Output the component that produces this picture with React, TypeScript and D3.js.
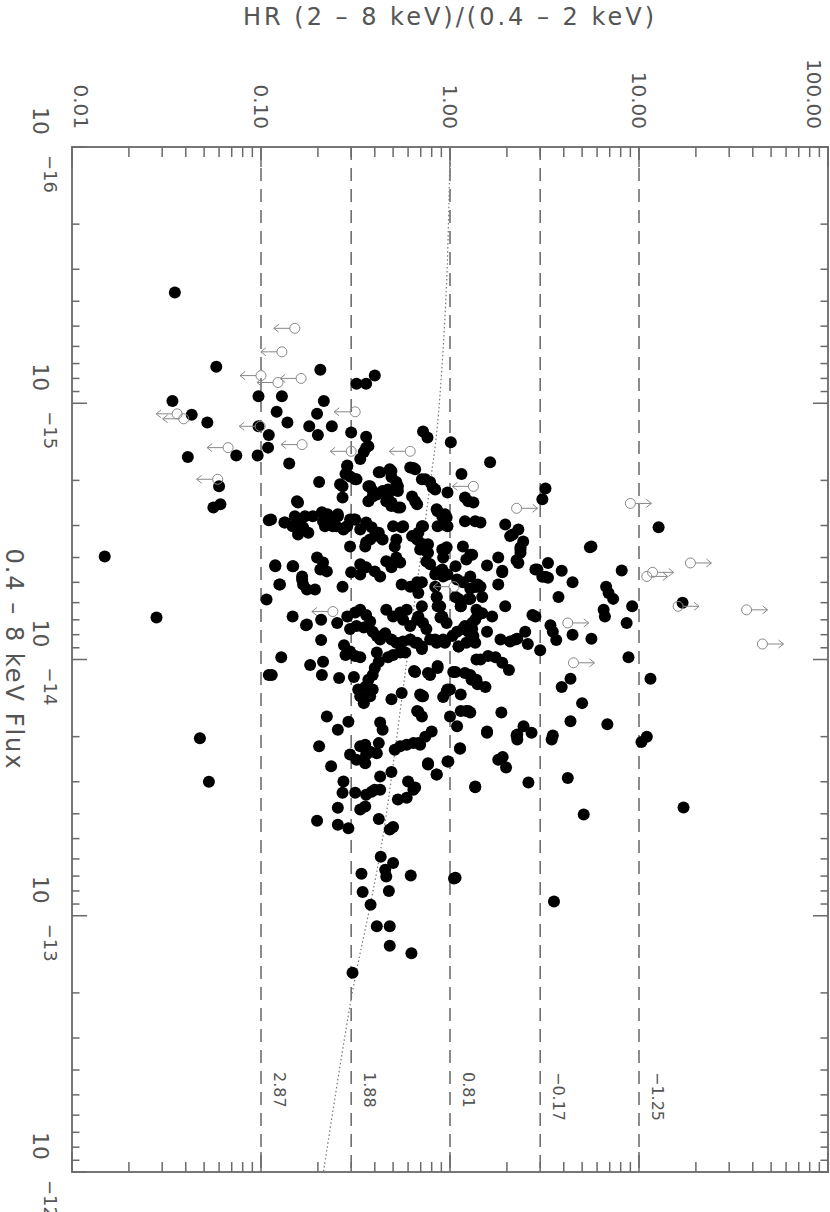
import React, { useEffect, useRef } from 'react';
import * as d3 from 'd3';

const width = 830;
const height = 1212;
const plot = { left: 72, right: 828, top: 147, bottom: 1172 };

// axis labels
const hrTicks = [0.01, 0.1, 1, 10, 100];
const hrTickLabels = ['0.01', '0.10', '1.00', '10.00', '100.00'];
const fluxTickExponents = [-16, -15, -14, -13, -12];

// photon index lines (HR value, label)
const gammaHR = [0.1, 0.3, 1, 3, 10];
const gammaLabels = ['2.87', '1.88', '0.81', '\u22120.17', '\u22121.25'];

// model track, flux in units of 1e-15
const modelFlux = [0.1, 0.355, 1.23, 2.04, 11.2, 47.9, 87, 200, 1000];
const modelHR = [1.0, 0.957, 0.857, 0.787, 0.58, 0.444, 0.383, 0.304, 0.214];

// detected sources: [HR, flux / 1e-15]
const detections: [number, number][] = [
    [0.035, 0.37], [0.058, 0.72], [0.206, 0.74], [0.40, 0.78], [0.36, 0.84], [0.32, 0.84], [0.034, 0.98], [0.097, 0.94],
    [0.129, 0.94], [0.215, 0.98], [0.043, 1.11], [0.052, 1.19], [0.121, 1.08], [0.138, 1.19], [0.198, 1.10], [0.180, 1.23],
    [0.237, 1.23], [0.097, 1.23], [0.110, 1.33], [0.109, 1.49], [0.096, 1.60], [0.20, 1.33], [0.30, 1.30], [0.36, 1.35],
    [0.36, 1.49], [0.335, 1.65], [0.041, 1.62], [0.074, 1.60], [0.141, 1.72], [0.286, 1.75], [0.28, 1.89], [0.42, 1.86],
    [0.49, 1.84], [0.616, 1.78], [0.203, 2.03], [0.060, 2.11], [0.061, 2.48], [0.056, 2.55], [0.262, 2.07], [0.315, 1.98],
    [0.37, 2.11], [0.47, 2.17], [0.53, 2.11], [0.27, 2.33], [0.39, 2.31], [0.49, 2.44], [0.545, 2.55], [0.157, 2.44],
    [0.110, 2.86], [0.134, 2.92], [0.151, 2.76], [0.171, 2.76], [0.157, 3.11], [0.178, 3.20], [0.21, 2.66], [0.218, 3.02],
    [0.255, 2.71], [0.273, 3.11], [0.31, 2.84], [0.36, 2.92], [0.42, 3.20], [0.50, 3.02], [0.565, 3.02], [0.296, 3.62],
    [0.36, 3.49], [0.44, 3.40], [0.63, 3.30],
    [0.72, 1.29], [0.76, 1.36], [1.01, 1.42], [1.63, 1.70], [1.15, 1.89], [0.654, 1.81], [0.71, 1.98], [0.785, 2.03],
    [0.81, 2.13], [0.97, 2.23], [1.20, 2.33], [1.33, 2.44], [3.20, 2.15], [3.08, 2.37], [0.86, 2.64], [0.94, 2.71],
    [0.97, 3.02], [0.86, 3.02], [1.20, 2.89], [1.45, 2.92], [1.96, 2.97], [2.30, 3.11], [2.08, 3.30], [2.44, 3.46],
    [0.71, 3.02], [12.7, 3.05], [5.6, 3.62], [1.17, 3.62], [0.96, 3.65], [0.765, 3.55],
    [8.1, 4.49], [6.7, 5.2], [6.9, 5.5], [7.3, 5.8], [6.5, 6.4], [6.6, 6.8], [9.2, 6.2], [8.6, 7.2], [8.8, 9.8],
    [11.5, 11.9], [17.0, 6.0], [3.75, 5.7], [4.45, 5.0], [3.3, 4.2], [3.08, 4.75], [3.3, 4.8], [3.9, 4.5], [2.83, 4.45],
    [3.4, 7.35], [3.5, 7.8], [3.65, 8.4], [4.45, 8.0], [5.6, 8.3], [3.0, 9.2], [4.34, 11.9], [3.9, 12.8], [5.0, 14.8],
    [4.34, 17.4], [6.8, 17.9], [3.5, 19.8], [10.3, 21.0], [11.0, 20.0], [4.2, 29.0], [5.1, 40.3], [17.2, 37.8],
    [1.05, 71.6], [2.6, 30.2], [1.36, 31.3], [0.654, 31.6], [0.765, 25.7], [0.85, 28.1], [0.97, 25.0], [1.13, 22.2],
    [1.80, 24.6], [1.90, 24.0], [1.98, 26.4], [2.25, 19.8], [2.45, 18.2], [2.70, 19.3], [1.57, 19.1], [1.87, 16.1],
    [0.68, 21.2], [0.80, 19.1], [0.74, 20.0], [1.09, 18.2], [1.0, 16.7], [1.14, 15.9], [1.22, 15.9], [0.96, 13.3],
    [0.97, 13.1], [1.14, 13.7], [0.71, 13.9], [0.68, 16.0], [0.654, 11.2], [0.765, 11.3], [0.86, 10.6], [1.07, 11.2],
    [1.20, 11.3], [1.30, 12.0], [1.40, 12.5], [1.54, 12.8], [1.45, 10.0], [1.59, 9.7], [1.74, 9.8], [1.89, 10.3],
    [2.05, 11.0], [0.654, 8.6], [0.71, 8.9], [0.835, 8.35], [0.94, 8.6], [1.03, 8.1], [1.11, 8.9], [1.20, 7.4],
    [1.31, 7.6], [1.25, 7.8], [1.36, 8.6], [1.57, 7.8], [1.85, 8.35], [2.08, 8.5], [2.22, 8.35], [2.50, 7.8],
    [2.58, 8.7], [2.73, 6.7], [2.83, 6.8], [1.96, 6.2], [1.67, 6.8], [1.40, 6.7], [1.36, 7.0], [1.48, 6.6],
    [1.11, 5.8], [1.14, 6.2], [1.25, 5.8], [1.28, 5.3], [1.36, 5.2], [1.45, 5.2], [1.48, 5.7], [1.80, 5.1],
    [1.89, 4.5], [1.57, 4.3], [1.80, 4.0], [2.25, 4.1], [1.28, 3.9], [2.36, 3.72], [0.94, 3.72], [0.695, 3.72],
    [0.765, 3.83], [0.75, 4.15], [0.835, 4.66], [0.91, 4.45], [0.97, 4.66], [0.835, 5.2], [0.85, 5.7], [0.86, 6.2],
    [0.89, 6.85], [0.71, 5.0], [0.68, 5.5], [0.71, 6.2], [0.68, 6.8],
    [0.155, 2.41], [0.113, 2.84], [0.161, 2.89], [0.167, 3.05], [0.157, 3.25], [0.225, 2.71], [0.213, 2.89], [0.24, 3.02],
    [0.255, 2.76], [0.25, 3.02], [0.28, 3.05], [0.296, 2.84], [0.315, 2.84], [0.335, 3.11], [0.385, 3.05], [0.40, 3.30],
    [0.286, 1.76], [0.27, 2.11], [0.296, 1.93], [0.32, 1.98], [0.37, 1.47], [0.35, 1.55], [0.427, 1.86], [0.48, 1.81],
    [0.49, 1.94], [0.52, 2.03], [0.53, 2.2], [0.378, 2.11], [0.39, 2.2], [0.41, 2.27], [0.44, 2.2], [0.47, 2.27],
    [0.46, 2.41], [0.49, 2.52], [0.53, 2.55], [0.37, 2.41], [0.63, 2.31], [0.654, 2.41], [0.67, 2.48], [0.64, 1.79],
    [0.74, 1.98], [0.835, 2.17], [1.25, 2.41], [0.85, 2.59], [0.91, 2.76], [0.92, 2.97], [0.96, 2.79], [1.36, 2.89],
    [0.72, 3.02], [0.68, 3.2], [0.67, 3.4], [0.72, 3.55], [0.75, 3.78], [0.555, 3.05], [0.52, 3.4], [0.51, 3.62],
    [0.378, 3.4], [0.356, 3.62], [0.91, 3.72], [0.92, 4.0], [1.22, 4.07], [0.785, 4.25], [1.07, 4.33], [0.52, 4.0],
    [0.545, 4.18], [0.49, 4.37], [0.46, 4.14], [0.335, 4.25], [0.36, 4.37], [0.40, 4.53], [0.427, 4.74], [0.30, 4.57],
    [0.335, 4.66], [0.198, 4.0], [0.213, 4.18], [0.206, 4.45], [0.223, 4.53], [0.119, 4.33], [0.147, 4.33], [0.165, 4.74],
    [0.126, 5.1], [0.167, 5.1], [0.175, 5.33], [0.27, 5.2], [0.85, 4.57], [0.92, 4.74], [1.09, 4.87], [1.17, 5.0],
    [1.28, 4.74], [1.38, 5.2], [0.555, 5.1], [0.616, 5.2], [0.67, 5.0],
    [0.147, 6.8], [0.175, 7.3], [0.208, 7.0], [0.208, 8.4], [0.128, 9.8], [0.182, 10.5], [0.213, 10.2], [0.21, 11.5],
    [0.114, 11.5], [0.259, 11.8], [0.31, 11.7], [0.253, 7.2], [0.286, 6.8], [0.315, 6.55], [0.335, 6.4], [0.36, 6.7],
    [0.378, 7.1], [0.296, 7.6], [0.32, 7.4], [0.35, 7.5], [0.39, 7.8], [0.41, 8.1], [0.427, 8.35], [0.46, 6.4],
    [0.50, 6.8], [0.545, 6.55], [0.59, 6.4], [0.565, 7.0], [0.616, 7.4], [0.67, 7.0], [0.72, 7.2], [0.75, 7.6],
    [0.454, 7.9], [0.49, 8.35], [0.52, 8.6], [0.565, 8.5], [0.616, 8.35], [0.67, 8.6], [0.71, 9.1], [0.785, 8.35],
    [0.85, 8.6], [0.92, 8.35], [1.09, 7.8], [1.17, 7.6], [1.28, 7.4], [0.85, 5.7], [0.887, 6.2], [0.91, 6.8],
    [0.96, 7.2], [1.07, 5.7], [1.14, 6.2], [1.28, 5.8], [1.38, 6.4], [1.11, 8.9], [1.22, 8.6], [1.33, 8.1],
    [1.38, 10.0], [0.275, 8.8], [0.28, 9.6], [0.296, 9.3], [0.315, 9.7], [0.335, 9.8], [0.41, 9.4], [0.42, 10.2],
    [0.40, 10.8], [0.39, 11.5], [0.37, 12.0], [0.356, 12.8], [0.47, 9.8], [0.50, 9.6], [0.545, 9.4], [0.58, 9.4],
    [0.327, 13.1], [0.335, 13.9], [0.35, 14.8], [0.378, 13.9], [0.39, 13.1], [0.49, 14.3], [0.555, 13.5], [0.645, 11.1],
    [0.785, 11.5], [0.86, 10.8], [1.04, 11.2], [1.28, 11.5], [1.38, 12.0], [0.72, 13.9], [0.695, 13.7], [0.92, 14.0],
    [1.0, 13.1], [0.67, 15.9], [0.71, 16.7], [1.25, 15.9], [0.427, 17.6], [0.44, 18.8], [0.223, 16.7], [0.255, 18.8],
    [0.29, 17.5],
    [0.203, 21.8], [0.296, 23.5], [0.335, 21.8], [0.356, 21.5], [0.36, 23.5], [0.378, 22.9], [0.41, 23.2], [0.42, 21.2],
    [0.32, 24.6], [0.356, 25.4], [0.51, 22.5], [0.545, 21.8], [0.59, 21.5], [0.64, 21.2], [0.695, 21.5], [0.235, 26.1],
    [0.427, 28.6], [0.49, 27.5], [0.273, 29.9], [0.27, 33.1], [0.315, 33.1], [0.36, 33.7], [0.385, 32.8], [0.40, 32.2],
    [0.427, 32.2], [0.60, 29.9], [0.64, 32.2], [0.59, 34.6], [0.53, 35.2], [0.765, 25.4], [0.85, 28.1], [0.98, 25.0],
    [1.13, 22.3], [1.36, 31.5], [0.255, 37.9], [0.335, 38.5], [0.356, 37.5], [0.198, 42.6], [0.255, 44.1], [0.29, 45.6],
    [0.42, 41.9], [0.48, 46.1], [0.50, 45.0], [0.43, 58.9], [0.50, 62.2], [0.454, 66.1], [0.46, 70.3], [0.34, 68.5],
    [0.62, 69.6], [1.07, 71.0], [0.345, 80.7], [0.475, 80.0],
    [0.38, 90.6], [0.41, 110], [0.48, 110], [0.48, 131], [0.625, 140], [0.305, 167], [3.55, 88],
    [2.15, 3.25], [2.36, 3.65], [2.36, 3.83], [2.30, 4.2], [1.89, 4.57], [1.31, 3.9], [2.9, 4.45], [3.2, 4.75],
    [5.5, 3.65], [1.40, 5.1], [1.31, 7.2], [2.27, 8.3], [1.28, 16.1], [1.57, 19.3], [2.27, 19.6], [3.45, 20.5], [2.27, 20.5],
    [0.0149, 3.96], [0.028, 6.85], [0.0475, 20.3], [0.053, 30.0], [0.133, 2.92], [0.147, 3.02], [0.188, 2.76], [0.232, 2.84],
    [0.286, 3.02], [0.119, 4.29], [0.148, 4.33], [0.125, 5.1], [0.165, 4.87], [0.193, 5.33], [0.107, 5.83], [0.173, 7.35],
    [0.110, 11.5],
];

// HR upper limits (arrow to the left): [HR, flux / 1e-15]
const upperLimits: [number, number][] = [
    [0.151, 0.51], [0.129, 0.63], [0.10, 0.78], [0.163, 0.80], [0.123, 0.83], [0.036, 1.10], [0.039, 1.15], [0.099, 1.23],
    [0.315, 1.08], [0.165, 1.45], [0.067, 1.49], [0.30, 1.54], [0.059, 1.98], [0.616, 1.54], [1.33, 2.11], [1.05, 5.2],
    [0.24, 6.5],
];

// HR lower limits (arrow to the right)
const lowerLimits: [number, number][] = [
    [2.25, 2.57], [9.0, 2.46], [18.7, 4.2], [11.8, 4.57], [11.0, 4.74], [16.1, 6.2], [37.1, 6.4], [45, 8.7],
    [4.2, 7.2], [4.5, 10.3],
];

const textColor = '#555';
const axisColor = '#6a6a6a';
const font = "'DejaVu Sans', sans-serif";

const isDecade = (v: number) => Math.abs(Math.log10(v) - Math.round(Math.log10(v))) < 1e-6;

const App = () => {
    const ref = useRef<SVGSVGElement>(null);

    useEffect(() => {
        const svg = d3.select(ref.current);
        svg.selectAll('*').remove();

        const x = d3.scaleLog().domain([0.01, 100]).range([plot.left, plot.right]);
        const y = d3.scaleLog().domain([1e-16, 1e-12]).range([plot.top, plot.bottom]);
        const fy = (f: number) => y(f * 1e-15);

        svg.append('rect').attr('width', width).attr('height', height).attr('fill', '#fff');

        // dashed HR lines
        svg.append('g').selectAll('line').data(gammaHR).enter()
            .append('line')
            .attr('x1', (d) => x(d)).attr('x2', (d) => x(d))
            .attr('y1', plot.top).attr('y2', plot.bottom)
            .attr('stroke', '#666').attr('stroke-width', 1.5)
            .attr('stroke-dasharray', '13,8');

        svg.append('g').selectAll('text').data(gammaHR).enter()
            .append('text')
            .attr('transform', (d) => `translate(${x(d) + 13}, 1072) rotate(90)`)
            .attr('font-family', font).attr('font-size', 16).attr('fill', textColor)
            .text((d, i) => gammaLabels[i]);

        // model track
        const track = modelFlux.map((f, i) => ({ f, hr: modelHR[i] }));
        const line = d3.line<{ f: number; hr: number }>()
            .x((d) => x(d.hr)).y((d) => fy(d.f))
            .curve(d3.curveCatmullRom);
        svg.append('path').datum(track)
            .attr('d', line)
            .attr('fill', 'none').attr('stroke', '#777').attr('stroke-width', 1.2)
            .attr('stroke-dasharray', '1.5,2.5');

        // detections
        svg.append('g').selectAll('circle').data(detections).enter()
            .append('circle')
            .attr('cx', (d) => x(d[0])).attr('cy', (d) => fy(d[1]))
            .attr('r', 6).attr('fill', '#000');

        // limits
        const drawLimits = (data: [number, number][], dir: number) => {
            const g = svg.append('g').attr('stroke', '#888').attr('stroke-width', 1).attr('fill', 'none');
            data.forEach(([hr, f]) => {
                const cx = x(hr);
                const cy = fy(f);
                const tip = cx + dir * 21;
                g.append('circle').attr('cx', cx).attr('cy', cy).attr('r', 5);
                g.append('line').attr('x1', cx + dir * 5).attr('x2', tip).attr('y1', cy).attr('y2', cy);
                g.append('path').attr('d', `M${tip - dir * 5},${cy - 4}L${tip},${cy}L${tip - dir * 5},${cy + 4}`);
            });
        };
        drawLimits(upperLimits, -1);
        drawLimits(lowerLimits, 1);

        // frame
        svg.append('rect')
            .attr('x', plot.left).attr('y', plot.top)
            .attr('width', plot.right - plot.left).attr('height', plot.bottom - plot.top)
            .attr('fill', 'none').attr('stroke', '#777').attr('stroke-width', 2);

        // HR ticks top and bottom
        const ticks = svg.append('g').attr('stroke', axisColor).attr('stroke-width', 1.5);
        x.ticks().forEach((t) => {
            const len = isDecade(t) ? 20 : 10;
            ticks.append('line').attr('x1', x(t)).attr('x2', x(t)).attr('y1', plot.top).attr('y2', plot.top + len);
            ticks.append('line').attr('x1', x(t)).attr('x2', x(t)).attr('y1', plot.bottom).attr('y2', plot.bottom - len);
        });
        // flux ticks left and right
        y.ticks().forEach((t) => {
            const len = isDecade(t) ? 15 : 7.5;
            ticks.append('line').attr('x1', plot.left).attr('x2', plot.left + len).attr('y1', y(t)).attr('y2', y(t));
            ticks.append('line').attr('x1', plot.right).attr('x2', plot.right - len).attr('y1', y(t)).attr('y2', y(t));
        });

        // HR tick labels (rotated)
        svg.append('g').selectAll('text').data(hrTicks).enter()
            .append('text')
            .attr('transform', (d) => {
                const px = Math.min(Math.max(x(d), plot.left + 9), plot.right - 14);
                return `translate(${px}, 129) rotate(90)`;
            })
            .attr('text-anchor', 'end').attr('dy', '0.36em')
            .attr('font-family', font).attr('font-size', 20).attr('fill', textColor)
            .text((d, i) => hrTickLabels[i]);

        // flux tick labels 10^n: base above the tick, exponent below
        const fl = svg.append('g').selectAll('text').data(fluxTickExponents).enter()
            .append('text')
            .attr('transform', (d) => `translate(33, ${y(Math.pow(10, d))}) rotate(90)`)
            .attr('x', -40)
            .attr('font-family', font).attr('font-size', 22).attr('fill', textColor);
        fl.append('tspan').text('10');
        fl.append('tspan').attr('dx', 20).attr('dy', -11).attr('font-size', 18)
            .text((d) => `\u2212${Math.abs(d)}`);

        // titles
        svg.append('text')
            .attr('x', (plot.left + plot.right) / 2).attr('y', 25)
            .attr('text-anchor', 'middle')
            .attr('font-family', font).attr('font-size', 24).attr('fill', textColor)
            .attr('letter-spacing', 3)
            .text('HR (2 \u2013 8 keV)/(0.4 \u2013 2 keV)');

        svg.append('text')
            .attr('transform', `translate(6, ${(plot.top + plot.bottom) / 2}) rotate(90)`)
            .attr('text-anchor', 'middle')
            .attr('font-family', font).attr('font-size', 24).attr('fill', textColor)
            .attr('letter-spacing', 2)
            .text('0.4 \u2013 8 keV Flux');
    }, []);

    return (
        <svg
            ref={ref}
            width={width}
            height={height}
            style={{ position: 'absolute', left: 0, top: 0, display: 'block' }}
        />
    );
};

export default App;
